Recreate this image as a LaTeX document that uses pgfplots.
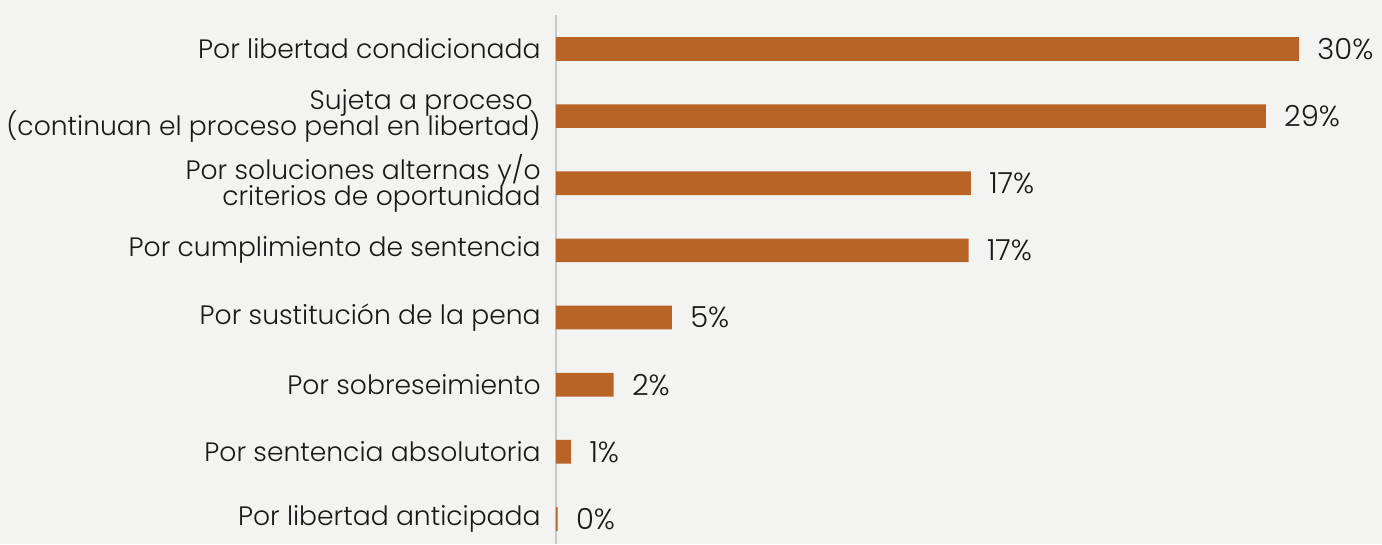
\documentclass[border=0pt]{standalone}
\usepackage{pgfplots}
\pgfplotsset{compat=1.18}
\usepackage{fontspec}
\setmainfont{Poppins Light}
\definecolor{barc}{RGB}{185,100,39}
\definecolor{bgc}{RGB}{243,243,241}
\definecolor{axisc}{RGB}{200,200,200}
\definecolor{txt}{RGB}{25,25,25}
\newcommand\catfont{\fontsize{13.3}{12.8}\selectfont\setlength{\lineskiplimit}{-8pt}}

\begin{document}
\begin{tikzpicture}[x=1pt,y=1pt]
% paper background, 1382x544 px at 0.5pt per px
\fill[bgc] (0,0) rectangle (691,272);
\begin{axis}[
    at={(278pt,0pt)}, anchor=south west,
    scale only axis,
    width=413pt, height=264.5pt,
    xbar, bar width=11.85pt,
    xmin=0, xmax=33.35,
    ymin=-0.506, ymax=7.373,
    y dir=reverse,
    axis x line=none,
    axis y line*=left,
    y axis line style={axisc, line width=0.8pt},
    major tick length=0pt,
    ytick={0,...,7},
    yticklabels={
        {Por libertad condicionada},
        {Sujeta a proceso\hspace*{0.3em}\\(continuan el proceso penal en libertad)},
        {Por soluciones alternas y/o\\criterios de oportunidad},
        {Por cumplimiento de sentencia},
        {Por sustitución de la pena},
        {Por sobreseimiento},
        {Por sentencia absolutoria},
        {Por libertad anticipada}},
    yticklabel style={
        align=right, inner sep=0pt, xshift=-7.5pt, text=txt,
        font=\catfont},
    point meta=explicit symbolic,
    nodes near coords,
    nodes near coords style={
        anchor=west, inner sep=0pt, xshift=9pt, text=txt,
        font=\fontsize{14.5}{14.5}\selectfont},
]
\addplot[fill=barc, draw=none] coordinates {
    (30.0,0) [30\%]
    (28.66,1) [29\%]
    (16.75,2) [17\%]
    (16.66,3) [17\%]
    (4.68,4) [5\%]
    (2.33,5) [2\%]
    (0.61,6) [1\%]
    (0.07,7) [0\%]
};
\end{axis}
\end{tikzpicture}
\end{document}
